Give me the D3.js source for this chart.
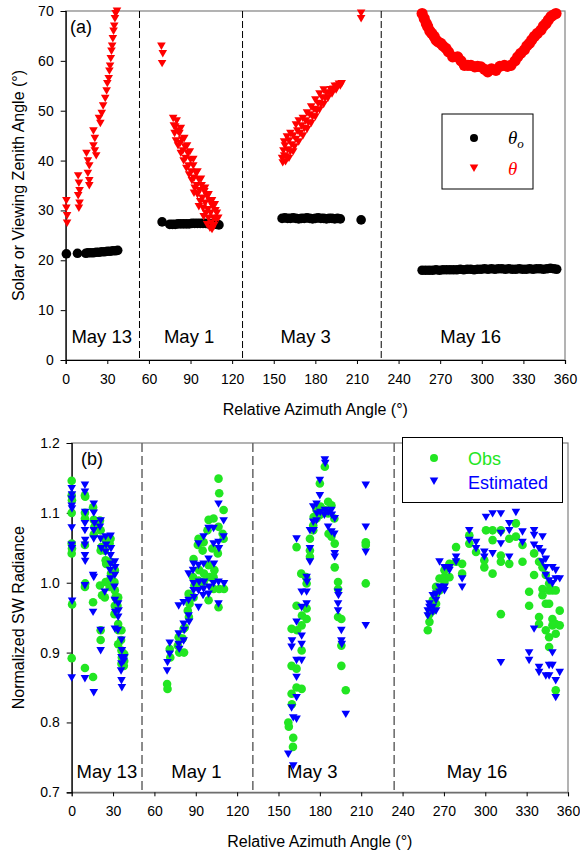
<!DOCTYPE html>
<html>
<head>
<meta charset="utf-8">
<script src="https://cdn.jsdelivr.net/npm/d3@7"></script>
<style>
  body { margin: 0; background: #fff; }
  svg { display: block; }
  text { font-family: "Liberation Sans", Arial, sans-serif; }
</style>
</head>
<body>
<svg id="chart" width="580" height="855"></svg>
<script>
// ---- data (relative azimuth in degrees, value) ----
const xTicks = [0, 30, 60, 90, 120, 150, 180, 210, 240, 270, 300, 330, 360];
const angleTicks = [0, 10, 20, 30, 40, 50, 60, 70];
const radTicks = [0.7, 0.8, 0.9, 1.0, 1.1, 1.2];
const days = ['May 13', 'May 1', 'May 3', 'May 16'];

// day boundaries (dashed lines) and label positions
const splitsA = [53.2, 127.5, 227.5];
const splitsB = [51.0, 131.4, 233.9];
const dayPosA = [26, 89, 173, 292];
const dayPosB = [25.5, 90.5, 174.5, 294];

// (a) solar zenith angle
const thetaO = [
  [0.5,21.3],[8.5,21.4],[14.5,21.4],[16,21.5],[18,21.5],[20,21.5],[22,21.6],[24,21.6],[26,21.7],
  [28,21.7],[30,21.8],[32,21.8],[34,21.9],[36,21.9],[37.5,22.0],
  [69.5,27.7],[75,27.2],[77,27.2],[79,27.2],[81,27.3],[83,27.3],[85,27.3],[87,27.3],[89,27.3],
  [91,27.4],[93,27.4],[95,27.4],[97,27.4],[99,27.4],[101,27.4],[103,27.3],[105,27.3],[107,27.2],
  [109,27.2],[110.5,27.1],
  [156,28.4],[158,28.5],[160,28.4],[162,28.4],[164,28.5],[166,28.4],[168,28.3],[170,28.4],
  [172,28.4],[174,28.5],[176,28.4],[178,28.3],[180,28.4],[182,28.5],[184,28.4],[186,28.4],
  [188,28.3],[190,28.4],[192,28.4],[194,28.3],[196,28.4],[198,28.3],[213,28.1],
  [257,18.0],[259.5,18.0],[262,18.0],[264.5,18.0],[267,18.1],[269.5,18.0],[272,18.1],[274.5,18.1],
  [277,18.1],[279.5,18.1],[282,18.1],[284.5,18.2],[287,18.1],[289.5,18.2],[292,18.2],[294.5,18.1],
  [297,18.2],[299.5,18.2],[302,18.3],[304.5,18.2],[307,18.3],[309.5,18.2],[312,18.3],[314.5,18.3],
  [317,18.2],[319.5,18.3],[322,18.2],[324.5,18.2],[327,18.3],[329.5,18.2],[332,18.2],[334.5,18.3],
  [337,18.2],[339.5,18.3],[342,18.3],[344.5,18.2],[347,18.3],[349.5,18.4],[352,18.3],[354,18.2]
];

// (a) viewing zenith angle, triangles (May 13, May 1, May 3)
const thetaTri = [
  [0.5,32],[0.5,30.5],[1,29],[1,27.5],
  [9,37],[9.5,35.5],[10,34],[9,33],[10,31.5],[9.5,30.5],
  [15,41.5],[16,40],[17,39],[16,37.5],[17,36],[17,35],
  [20,46],[21,44.5],[20,43],[21,42],[22,41],
  [24,48.5],[25,47.5],[26,49.5],[27,51],
  [28.5,52.5],[29.5,54],[30,55.5],
  [31,56.5],[31.5,58],[32,59],
  [32.5,60.5],[33,62],[33.5,63],
  [34,64.5],[34.5,66],[35,67],[35.5,68.5],[36,69.5],[37,70],
  [69,63],[70,61.5],[69.5,59.5],
  [77.5,48.5],[78,47],[78.5,45.5],[79,46.8],[79.5,44],[80.5,46],[81,43],[82,45.5],[82.5,43.5],
  [83,41.5],[84,44.2],[84.5,42],[85,40],[86,42.8],[86.5,40.5],[87,38.5],[88,41.5],[88.5,39],
  [89,37.2],[90,40.2],[90.5,37.8],[91,36],[92,39],[92.5,36.5],[93,34.5],[94,37.5],[94.5,35],
  [95,33.2],[96,36.2],[96.5,34],[97,31.8],[98,35],[98.5,32.5],[99,30.5],[100,33.8],[100.5,31.5],
  [101,29.5],[102,32.8],[102.5,30.2],[103,28.5],[104,31.8],[104.5,29.5],[105,27.5],[105.5,26.2],
  [106,30.8],[106.5,28.5],[107,27],[108,30],[108.5,28.2],[109,29.5],[110,28.5],
  [80,48],[83,46.5],[85.5,44.5],[87.5,43],[89.5,41.8],[92,40.3],[95,37.8],[97.5,36.3],
  [100.5,34.5],[103,33.2],[105.5,32],[107.5,31.2],[92.5,33.5],[96,30.8],[99.5,28.8],
  [102,27.2],[104,26.5],
  [156,40.5],[157,42],[157.5,41],[158,43],[159,40.8],[160,42.2],[161,44],[162,41.8],[163,43.2],
  [164,45],[165,42.8],[166,44.3],[167,46],[168,43.8],[169,45.5],[170,47],[171,45],[172,46.5],
  [173,48],[174,46.3],[175,47.6],[176,49.2],[177,47.5],[178,48.8],[179,50.3],[180,48.8],[181,50],
  [182,51.5],[183,50.2],[184,51.3],[185,52.6],[186,51.3],[187,52.5],[188,53.5],[189,52.5],
  [190,53.6],[191,54.3],[192,53.4],[193,54.4],[194,55],[195,54.2],[196,55],[197,55.4],[198,55],
  [199,55.5],
  [157.5,43.8],[159.5,44.8],[162,45.5],[156.5,39.6],[158.5,39.8],[161,40.5],[164,41.8],
  [166,47.2],[168,48],[171,48.5],[174,49.6],[177,50.8],[180,52.2],[183,53.4],[186,54.2],
  [213,69.6],[213,68.5]
];

// (a) viewing zenith angle, May 16 (plotted as circles)
const thetaDot = [
  [257,69.5],[258.5,68.5],[260,67.5],[261,66.9],[262.5,66],[264,65.5],[265.7,64.9],[267,64.2],
  [268.5,63.8],[270.5,63.5],[272,63],[274.2,62.5],[276,61.8],[279,60.8],[282.6,60.8],[285,60],
  [287.4,59.1],[290,59.1],[292.2,59.1],[295,58.8],[297,58.9],[299.4,58.8],[302,58.3],[304.3,57.8],
  [307,58.4],[310.2,58.1],[313,58.9],[316.3,59.1],[318.5,58.9],[321.1,59.1],[324,60],[325.9,60.8],
  [328,61.5],[330.7,62.2],[332.5,63],[334.3,63.5],[336,64.2],[337.9,64.9],[340,65.5],[342.7,66.2],
  [344.5,67],[346.3,67.5],[348,68.2],[349.9,68.9],[351.5,69.2],[353.5,69.5]
];

// (b) normalized SW radiance, observed
const obs = [
  [0,1.146],[0,1.125],[0.2,1.118],[0,1.1],[0,1.056],[0.2,1.049],[0,1.042],[0.3,0.969],[0,0.892],
  [9.6,1.125],[9.8,1.123],[9.6,1.1],[9.6,1.092],[9.6,1.054],[9.8,0.999],[9.6,0.994],[9.6,0.878],
  [15.5,1.108],[16,1.09],[16.5,1.08],[16,1.069],[15.5,0.972],[15.5,0.865],
  [20.5,1.089],[21,1.075],[21.5,1.051],[21,1.046],[20.5,0.996],[22,0.982],[21,0.932],[21,0.918],
  [24.6,1.061],[24,1.046],[24.6,1.032],[25,1.027],[24.6,1.001],[24,0.979],
  [28.2,1.063],[27.5,1.056],[28.2,1.03],[28.5,1.013],[28.2,1.006],[27.5,0.994],
  [31.3,1.018],[31,1.001],[31.3,0.989],[31.8,0.979],[31.3,0.967],[31,0.955],
  [33.7,0.979],[33.2,0.967],[33.7,0.941],[34,0.932],[33.7,0.912],
  [36.1,0.932],[35.8,0.918],[36.1,0.903],[36.4,0.893],[36.1,0.884],
  [38.1,0.898],[38.1,0.888],[37.8,0.881],
  [69.2,0.855],[69.5,0.848],[71.1,0.905],[71.5,0.893],
  [77.6,0.922],[77,0.91],[78,0.9],
  [81.2,0.934],[80.5,0.92],[82,0.936],[81.5,0.9],
  [84.8,0.984],[84.2,0.96],[85,0.951],[85.5,0.97],
  [88.4,1.034],[88,1.008],[89,0.996],[88.4,0.979],
  [92,1.063],[91.5,1.054],[92.5,1.018],[92,1.003],[91,0.994],
  [95.7,1.058],[95,1.046],[96,1.013],[95.7,1.001],
  [99.3,1.09],[98.5,1.075],[99.3,1.025],[100,1.008],[99.3,0.975],
  [102.9,1.092],[102,1.049],[103.5,1.018],[102.9,1.008],[103,0.991],
  [106.5,1.149],[107,1.128],[106.5,1.08],[106,1.042],[107,0.991],[106.5,0.965],
  [110.2,1.104],[109.5,1.07],[110.2,1.063],[110.5,0.991],
  [157.1,0.8],[157.5,0.794],[160.7,0.778],[160.5,0.765],
  [159.5,0.881],[159.5,0.841],[159.7,0.826],[159.5,0.934],
  [163.1,0.877],[163.1,0.85],[163.5,0.932],[163.1,0.967],[163.1,1.051],
  [166.8,0.903],[166.8,0.939],[167,0.953],[166.5,1.013],[166.8,0.848],
  [170.4,0.963],[170.4,0.948],[170.4,0.999],[170,1.008],
  [172.8,1.037],[172.8,1.046],[172.8,1.063],
  [175.2,1.075],[175.2,1.082],[175.5,1.094],
  [177.6,1.104],[177.6,1.092],
  [180,1.142],[180.5,1.109],[180,1.097],
  [183.6,1.166],[183.6,1.104],
  [186,1.116],[186,1.099],[186.3,1.07],
  [188.4,1.111],[188.4,1.066],
  [190.8,1.056],[190.8,1.022],[190.5,1.092],
  [193.2,1.001],[193.2,0.991],[193.2,0.951],
  [195.6,0.948],[195.6,0.91],[195.6,0.881],
  [198.8,0.846],
  [213.3,1.058],[213.3,1.054],[213.3,0.999],
  [258.3,0.932],[259.5,0.944],[259.5,0.955],[261.9,0.96],[261.9,0.975],
  [264.3,0.97],[264.3,0.984],[264.3,0.994],[266.8,1.006],[266.8,0.989],
  [270.4,1.008],[270.4,1.018],[270.4,1.001],[274,1.008],[274,1.027],
  [278.8,1.051],[278.8,1.03],[283.2,1.027],[283.2,1.013],
  [288.4,1.068],[288.4,1.056],[293.3,1.044],[299.3,1.032],[299.3,1.022],[300.5,1.075],
  [305.3,1.075],[305.3,1.061],[305.3,1.013],
  [311.3,1.075],[311.3,1.039],[311.3,1.03],[311.3,0.955],
  [317.4,1.063],[317.4,1.027],[322.2,1.085],[322.2,1.066],
  [327,1.054],[327,1.03],[331.8,0.987],[331.8,0.967],
  [335.4,1.042],[335.4,1.011],[339,1.03],[339,0.951],[339,0.941],
  [341.5,1.022],[341.5,0.991],[341.5,0.982],
  [343.9,1.011],[343.9,0.97],[343.9,0.932],
  [346.3,0.999],[346.3,0.989],[346.3,0.97],[346.3,0.922],[346.3,0.908],
  [348.7,0.989],[348.7,0.948],[348.7,0.939],
  [351.1,0.989],[351.1,0.941],[351.1,0.927],[351.1,0.846],
  [354,0.96],[354,0.939]
];

// (b) normalized SW radiance, estimated
const est = [
  [0,1.135],[0.2,1.126],[0,1.12],[0,1.11],[0.2,1.106],[0,1.079],[0,1.054],[0.2,1.049],[0.3,0.974],[0,0.864],
  [9.6,1.14],[9.6,1.13],[9.8,1.101],[9.6,1.085],[9.6,1.075],[9.8,1.061],[9.6,1.054],[9.6,1.039],
  [9.8,1.031],[9.6,0.996],[9.6,0.863],
  [16,1.113],[16,1.1],[16.5,1.085],[16,1.075],[16,1.063],[15.5,1.011],[16,1.008],[15.5,0.958],[16,0.843],
  [21,1.089],[20.5,1.08],[21,1.063],[21.5,1.049],[21,0.932],[21,0.903],
  [24.6,1.066],[25,1.054],[24.6,1.044],[24,0.987],
  [28.2,1.067],[28.5,1.049],[28.2,1.039],[28.2,1.027],[27.8,1.018],[28.2,1.006],
  [31.3,1.03],[31.6,1.022],[31.3,1.011],[31,0.994],[31.3,0.975],[31.5,0.958],[31.3,0.934],
  [33.7,0.97],[34,0.96],[33.7,0.951],[33.5,0.932],
  [36.1,0.918],[36.4,0.903],[36.1,0.893],[36.1,0.884],[35.8,0.874],[36.1,0.86],[36.4,0.85],
  [38.1,0.893],[37.8,0.888],
  [69.2,0.874],[69.5,0.886],[71.1,0.914],[71.1,0.898],
  [77.6,0.927],[77.6,0.912],[78,0.905],[77.6,0.967],
  [81.2,0.941],[81.6,0.932],[81.2,0.917],[81.2,0.972],
  [84.8,0.975],[84.8,0.953],[85.2,0.944],[84.8,1.013],
  [88.4,1.027],[88.4,0.989],[88.8,0.979],[88,1.018],[88.4,0.999],
  [92,1.056],[92,1.025],[92.4,1.001],[92,0.989],[92,0.965],
  [95.7,1.066],[95.7,1.027],[96,1.001],[95.7,0.991],[95.3,0.982],
  [99.3,1.078],[99.3,1.034],[99.6,0.994],[99.3,0.984],
  [102.9,1.078],[102.9,1.056],[103.2,1.027],[102.9,0.999],
  [106.5,1.113],[106.5,1.058],[106.8,1.049],[106.5,1.001],[106.5,0.97],
  [110.2,1.089],[110.2,1.066],[110.5,0.999],
  [157.1,0.755],[160.7,0.738],[160.7,0.807],
  [159.5,0.908],[159.8,0.917],[159.5,0.821],
  [163.1,0.944],[163.1,0.889],[163.1,0.865],[163.1,0.836],[163.1,0.805],[163.1,1.063],
  [166.8,0.924],[166.8,0.912],[166.8,0.889],[166.8,0.965],[166.8,0.987],
  [170.4,0.97],[170.4,0.987],[170.4,1.008],[170.7,1.001],
  [172.8,1.049],[172.8,1.03],[172.8,1.075],
  [175.2,1.087],[175.2,1.109],[175.5,1.075],
  [177.6,1.113],[177.6,1.089],[177.9,1.099],
  [180,1.147],[180,1.125],[180.3,1.101],
  [183.6,1.176],[183.9,1.171],[183.6,1.104],[183.3,1.097],
  [186,1.101],[186,1.08],
  [188.4,1.104],[188.7,1.097],[188.4,1.073],
  [190.8,1.092],[190.8,1.042],[190.8,1.037],[190.5,1.07],
  [193.2,0.987],[193.5,0.982],[193.2,0.97],[193.2,0.96],
  [195.6,0.932],[195.6,0.917],[195.9,0.912],
  [198.8,0.812],
  [213.3,1.14],[213.3,1.08],[213.3,1.044],[213.3,0.939],
  [258.3,0.953],[258.3,0.96],[259.5,0.965],[259.5,0.97],
  [261.9,0.982],[261.9,0.965],[261.9,0.958],[264.3,0.984],[264.3,0.975],[264.3,0.96],
  [266.8,0.994],[266.8,0.987],[266.8,1.03],[270.4,1.022],[270.4,0.994],[270.4,0.989],
  [274,1.022],[274,1.018],[278.8,1.037],[278.8,1.03],[283.2,1.006],[283.2,0.994],
  [288.4,1.075],[288.4,1.061],[293.3,1.058],[293.3,1.049],[299.3,1.037],[299.3,1.044],[300.5,1.094],
  [305.3,1.099],[305.3,1.042],[311.3,1.099],[311.3,1.071],[311.3,1.056],[311.3,0.886],
  [317.4,1.085],[317.4,1.075],[317.4,1.037],[322.2,1.101],
  [327,1.073],[327,1.058],[331.8,0.9],[331.8,0.889],
  [335.4,1.075],[335.4,1.068],[335.4,1.054],[335.4,0.934],
  [339,1.049],[339,0.879],[339,0.872],
  [341.5,1.044],[341.5,1.03],[341.5,1.066],
  [343.9,1.022],[343.9,1.034],[343.9,1.011],[343.9,0.867],
  [346.3,1.003],[346.3,0.882],[346.3,0.867],
  [348.7,1.022],[348.7,0.999],[348.7,0.9],[348.7,0.882],
  [351.1,1.018],[351.1,1.006],[351.1,0.86],[351.1,0.836],
  [354,1.006],[354,0.872]
];

// ---- drawing ----
const svg = d3.select('#chart');
const triDown = 'M-4.3,-3.4L4.3,-3.4L0,4Z';

function drawPanel(cfg) {
    const { x, y } = cfg;
    const g = svg.append('g');
    const [x0, x1] = x.range();
    const [yb, yt] = y.range();

    // frame
    g.append('rect')
        .attr('x', x0).attr('y', yt)
        .attr('width', x1 - x0).attr('height', yb - yt)
        .attr('fill', 'none')
        .attr('stroke', '#808080')
        .attr('stroke-width', 1.2);

    // day separators
    g.selectAll('line.split')
        .data(cfg.splits)
        .join('line')
        .attr('class', 'split')
        .attr('x1', d => x(d)).attr('x2', d => x(d))
        .attr('y1', yt).attr('y2', yb)
        .attr('stroke', cfg.splitColor)
        .attr('stroke-width', cfg.splitWidth)
        .attr('stroke-dasharray', cfg.dash);

    // axes
    const xAxis = g.append('g')
        .attr('transform', `translate(0,${yb})`)
        .call(d3.axisBottom(x).tickValues(xTicks).tickSize(4).tickPadding(10));
    const yAxis = g.append('g')
        .attr('transform', `translate(${x0},0)`)
        .call(d3.axisLeft(y).tickValues(cfg.yTicks).tickSize(5).tickPadding(7)
            .tickFormat(cfg.yFormat));
    xAxis.select('.domain').attr('stroke', cfg.bottomColor).attr('stroke-width', 1.2);
    yAxis.select('.domain').attr('stroke', '#000').attr('stroke-width', 1.2);
    [xAxis, yAxis].forEach(a => {
        a.selectAll('text').style('font-size', '14px')
            .style('font-family', '"Liberation Sans", Arial, sans-serif').attr('fill', '#000');
        a.selectAll('.tick line').attr('stroke', '#000');
    });

    // day labels
    g.selectAll('text.day')
        .data(days)
        .join('text')
        .attr('class', 'day')
        .attr('x', (d, i) => x(cfg.dayPos[i]))
        .attr('y', cfg.dayY)
        .attr('text-anchor', 'middle')
        .style('font-size', '18.5px')
        .text(d => d);

    // panel letter
    g.append('text')
        .attr('x', cfg.letter[1]).attr('y', cfg.letter[2])
        .style('font-size', '18px')
        .text(cfg.letter[0]);

    // axis titles
    g.append('text')
        .attr('x', (x0 + x1) / 2).attr('y', cfg.xTitleY)
        .attr('text-anchor', 'middle')
        .style('font-size', '16px')
        .text('Relative Azimuth Angle (°)');
    g.append('text')
        .attr('transform', `translate(24,${(yb + yt) / 2}) rotate(-90)`)
        .attr('text-anchor', 'middle')
        .style('font-size', '16px')
        .text(cfg.yTitle);

    return g;
}

function dots(g, data, x, y, r, color) {
    g.append('g').selectAll('circle')
        .data(data)
        .join('circle')
        .attr('cx', d => x(d[0]))
        .attr('cy', d => y(d[1]))
        .attr('r', r)
        .attr('fill', color);
}

function tris(g, data, x, y, color) {
    g.append('g').selectAll('path')
        .data(data)
        .join('path')
        .attr('d', triDown)
        .attr('transform', d => `translate(${x(d[0])},${y(d[1])})`)
        .attr('fill', color);
}

// panel (a)
const xA = d3.scaleLinear().domain([0, 360]).range([65.7, 565]);
const yA = d3.scaleLinear().domain([0, 70]).range([360, 11]);
const gA = drawPanel({
    x: xA, y: yA, yTicks: angleTicks, yFormat: d3.format('d'),
    splits: splitsA, splitColor: '#000', splitWidth: 1, dash: '7,3',
    bottomColor: '#000', dayPos: dayPosA, dayY: 343,
    letter: ['(a)', 70, 33], xTitleY: 415,
    yTitle: 'Solar or Viewing Zenith Angle (°)'
});
dots(gA, thetaO, xA, yA, 4.8, '#000');
tris(gA, thetaTri, xA, yA, '#ff0000');
dots(gA, thetaDot, xA, yA, 5.6, '#ff0000');

// legend (a)
const legA = gA.append('g');
legA.append('rect').attr('x', 442).attr('y', 114).attr('width', 91).attr('height', 75)
    .attr('fill', '#fff').attr('stroke', '#000');
legA.append('circle').attr('cx', 474).attr('cy', 138).attr('r', 4).attr('fill', '#000');
legA.append('path').attr('d', triDown).attr('transform', 'translate(474,168)').attr('fill', '#ff0000');
const tO = legA.append('text').attr('x', 508).attr('y', 144)
    .style('font-family', '"Liberation Serif", "Times New Roman", serif')
    .style('font-style', 'italic').style('font-size', '19px');
tO.append('tspan').text('θ');
tO.append('tspan').attr('dy', 4).style('font-size', '13px').text('o');
legA.append('text').attr('x', 508).attr('y', 175)
    .style('font-family', '"Liberation Serif", "Times New Roman", serif')
    .style('font-style', 'italic').style('font-size', '19px')
    .attr('fill', '#ff0000').text('θ');

// panel (b)
const xB = d3.scaleLinear().domain([0, 360]).range([71.7, 568]);
const yB = d3.scaleLinear().domain([0.7, 1.2]).range([792.3, 443]);
const gB = drawPanel({
    x: xB, y: yB, yTicks: radTicks, yFormat: d3.format('.1f'),
    splits: splitsB, splitColor: '#666', splitWidth: 1.5, dash: '9,4',
    bottomColor: '#666', dayPos: dayPosB, dayY: 778,
    letter: ['(b)', 81, 465], xTitleY: 847,
    yTitle: 'Normalized SW Radiance'
});
dots(gB, obs, xB, yB, 4.3, '#22e622');
tris(gB, est, xB, yB, '#0000ff');

// legend (b)
const legB = gB.append('g');
legB.append('rect').attr('x', 402.5).attr('y', 437.5).attr('width', 160).attr('height', 65)
    .attr('fill', '#fff').attr('stroke', '#000');
legB.append('circle').attr('cx', 434).attr('cy', 458).attr('r', 4).attr('fill', '#22e622');
legB.append('path').attr('d', triDown).attr('transform', 'translate(434,481)').attr('fill', '#0000ff');
legB.append('text').attr('x', 468).attr('y', 464.5).style('font-size', '18px')
    .attr('fill', '#22e622').text('Obs');
legB.append('text').attr('x', 468).attr('y', 488.5).style('font-size', '18px')
    .attr('fill', '#0000ff').text('Estimated');
</script>
</body>
</html>
